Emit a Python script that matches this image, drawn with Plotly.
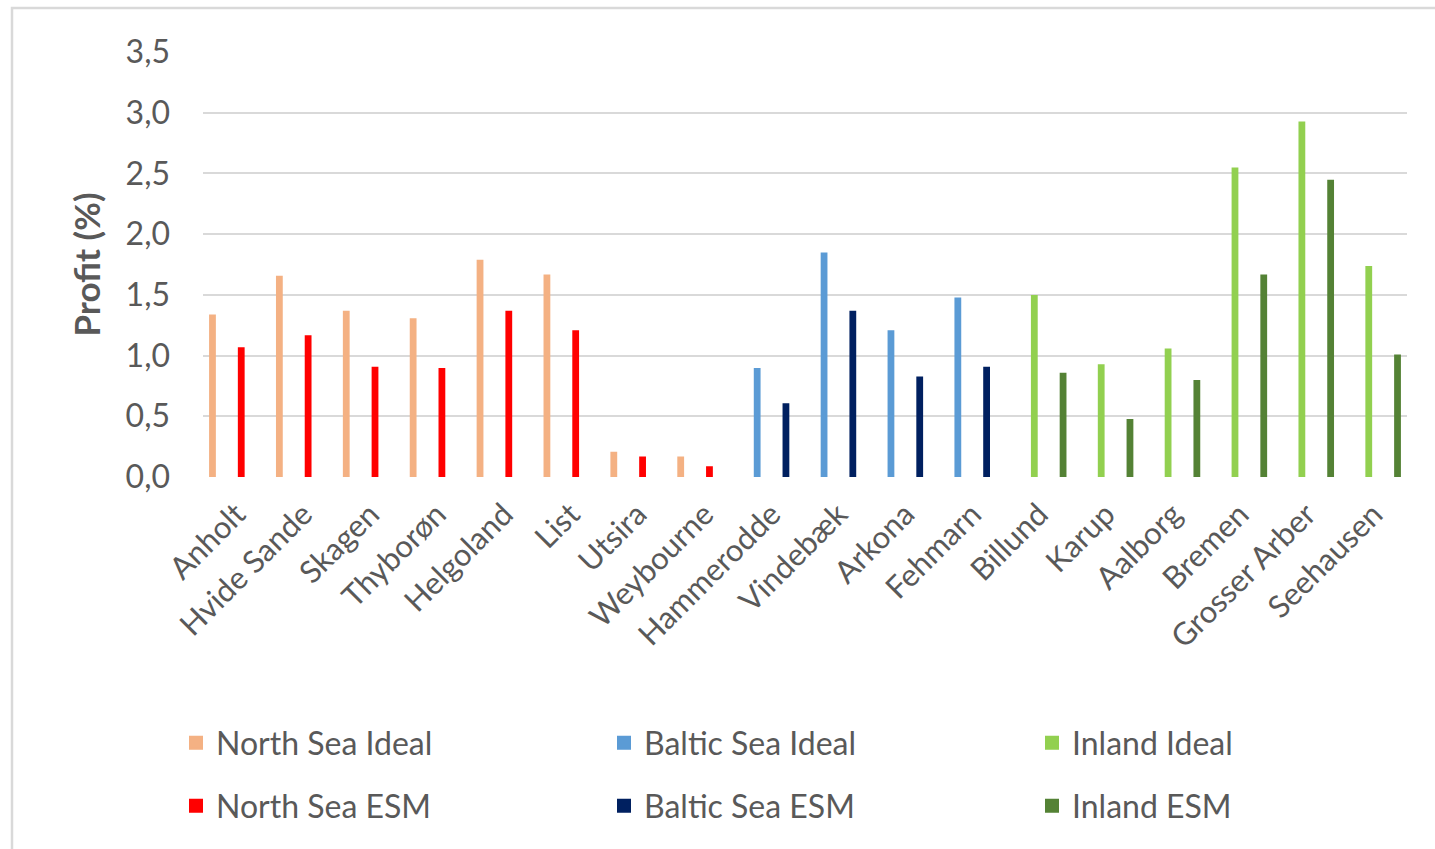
import plotly.graph_objects as go

# Sites per region, in display order
north_sea_sites = ["Anholt", "Hvide Sande", "Skagen", "Thyborøn", "Helgoland", "List", "Utsira", "Weybourne"]
baltic_sea_sites = ["Hammerodde", "Vindebæk", "Arkona", "Fehmarn"]
inland_sites = ["Billund", "Karup", "Aalborg", "Bremen", "Grosser Arber", "Seehausen"]

# Profit (%) per site
north_sea_ideal = [1.33, 1.65, 1.36, 1.30, 1.78, 1.66, 0.20, 0.16]
north_sea_esm = [1.06, 1.16, 0.90, 0.89, 1.36, 1.20, 0.16, 0.08]
baltic_sea_ideal = [0.89, 1.84, 1.20, 1.47]
baltic_sea_esm = [0.60, 1.36, 0.82, 0.90]
inland_ideal = [1.49, 0.92, 1.05, 2.54, 2.92, 1.73]
inland_esm = [0.85, 0.47, 0.79, 1.66, 2.44, 1.00]

y_ticks = [0, 0.5, 1.0, 1.5, 2.0, 2.5, 3.0, 3.5]

all_sites = north_sea_sites + baltic_sea_sites + inland_sites


def spread(sites, values):
    lookup = dict(zip(sites, values))
    return [lookup.get(s) for s in all_sites]


series = [
    ("North Sea Ideal", north_sea_sites, north_sea_ideal, "#F4B183", "legend"),
    ("Baltic Sea Ideal", baltic_sea_sites, baltic_sea_ideal, "#5B9BD5", "legend"),
    ("Inland Ideal", inland_sites, inland_ideal, "#92D050", "legend"),
    ("North Sea ESM", north_sea_sites, north_sea_esm, "#FF0000", "legend2"),
    ("Baltic Sea ESM", baltic_sea_sites, baltic_sea_esm, "#002060", "legend2"),
    ("Inland ESM", inland_sites, inland_esm, "#548235", "legend2"),
]

FONT = "Lato"
GREY = "#595959"

W, H = 1435, 849
ML, MR, MT, MB = 203, 28, 52, 372
pw = W - ML - MR
ph = H - MT - MB

fig = go.Figure()
for i, (name, sites, vals, color, lg) in enumerate(series):
    fig.add_trace(go.Bar(
        name=name,
        x=all_sites,
        y=spread(sites, vals),
        marker=dict(color=color, line=dict(width=2, color=color)),
        offsetgroup=str(i),
        legend=lg,
    ))


def px_x(px):
    return (px - ML) / pw


def px_y(py):
    return (H - MB - py) / ph


legend_common = dict(
    orientation="h",
    entrywidth=383,
    entrywidthmode="pixels",
    xanchor="left",
    yanchor="middle",
    x=px_x(176),
    font=dict(family=FONT, size=32, color=GREY),
    bgcolor="rgba(0,0,0,0)",
    itemclick=False,
)

fig.update_layout(
    width=W,
    height=H,
    margin=dict(l=ML, r=MR, t=MT, b=MB, pad=0, autoexpand=False),
    paper_bgcolor="white",
    plot_bgcolor="white",
    separators=", ",
    barmode="group",
    bargap=0.14,
    bargroupgap=0.5,
    font=dict(family=FONT, color=GREY),
    legend=dict(**legend_common, y=px_y(743)),
    legend2=dict(**legend_common, y=px_y(806)),
    xaxis=dict(
        type="category",
        categoryorder="array",
        categoryarray=all_sites,
        tickangle=-45,
        tickfont=dict(family=FONT, size=31, color=GREY),
        ticklabelstandoff=12,
        showline=False,
        showgrid=False,
        ticks="",
    ),
    yaxis=dict(
        range=[0, 3.5],
        tickvals=y_ticks,
        tickformat=".1f",
        tickfont=dict(family=FONT, size=32, color=GREY),
        ticklabelstandoff=32,
        showgrid=True,
        gridcolor="#D9D9D9",
        gridwidth=1.5,
        zeroline=False,
        showline=False,
        ticks="",
        title=dict(
            text="<b>Profit (%)</b>",
            font=dict(family=FONT, size=35, color=GREY),
            standoff=14,
        ),
    ),
    shapes=[
        dict(
            type="rect",
            xref="paper", yref="paper",
            x0=px_x(12), x1=px_x(W + 10),
            y0=px_y(H + 10), y1=px_y(8),
            line=dict(color="#D9D9D9", width=2.5),
            fillcolor="rgba(0,0,0,0)",
            layer="below",
        )
    ],
)

fig.write_html("out.html")
